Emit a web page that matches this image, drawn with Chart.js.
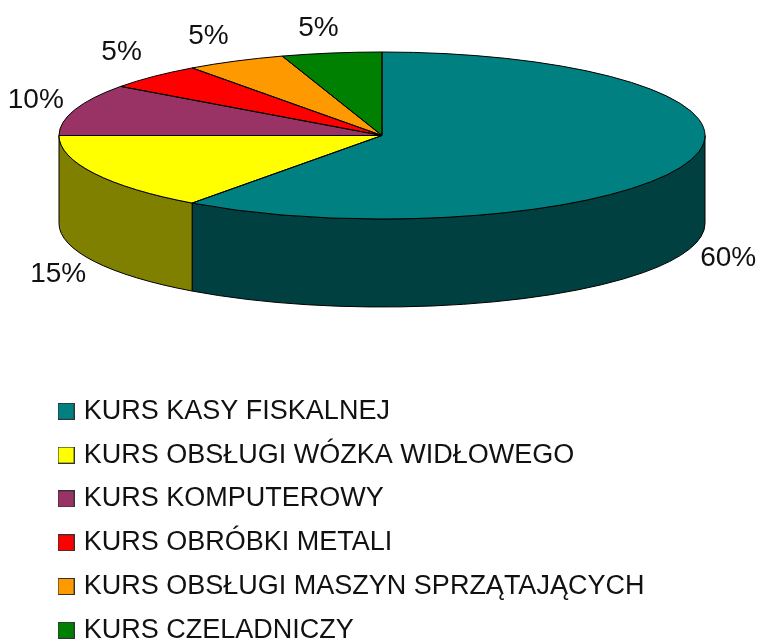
<!DOCTYPE html>
<html>
<head>
<meta charset="utf-8">
<script src="https://cdn.jsdelivr.net/npm/chart.js@4"></script>
<style>
html, body { margin: 0; padding: 0; background: #fff; }
#wrap { width: 760px; height: 642px; }
</style>
</head>
<body>
<div id="wrap"><canvas id="pieChart" width="760" height="642"></canvas></div>
<script>
const categories = [
    "KURS KASY FISKALNEJ",
    "KURS OBSŁUGI WÓZKA WIDŁOWEGO",
    "KURS KOMPUTEROWY",
    "KURS OBRÓBKI METALI",
    "KURS OBSŁUGI MASZYN SPRZĄTAJĄCYCH",
    "KURS CZELADNICZY"
];
const shares = [60, 15, 10, 5, 5, 5];
const topColors = ["#008080", "#FFFF00", "#993366", "#FF0000", "#FF9900", "#008000"];
const sideColors = ["#004040", "#808000", "#4C1933", "#800000", "#804C00", "#004000"];

// where the flattened pie sits on the page
const pieX = 382, pieY = 135.5, radiusX = 323, radiusY = 83.5, depth = 88;
// nudge of each % label away from its rim point
const labelShift = [[39, 8.5], [-36, 12.5], [-39, -9], [-32, -24], [-27, -25], [-13, -25]];
const labelFont = "28px 'Liberation Sans', Arial, sans-serif";

function makeSwatch(color) {
    const c = document.createElement("canvas");
    c.width = 17;
    c.height = 17;
    const g = c.getContext("2d");
    g.fillStyle = "#333";
    g.fillRect(0, 0, 17, 17);
    g.fillStyle = color;
    g.fillRect(1, 1, 15, 15);
    return c;
}

// flattens the arcs into an ellipse and adds the side wall
const pie3d = {
    id: "pie3d",
    afterLayout(chart) {
        // one column of legend rows, under the pie
        const legend = chart.legend;
        legend.left = 45;
        legend.right = 700;
        legend.top = 381;
    },
    beforeDatasetsDraw(chart) {
        const ctx = chart.ctx;
        const arcs = chart.getDatasetMeta(0).data;

        ctx.save();
        ctx.strokeStyle = "#000";
        ctx.lineWidth = 1;
        arcs.forEach((arc, i) => {
            const from = Math.max(arc.startAngle, 0);
            const to = Math.min(arc.endAngle, Math.PI);
            if (from >= to) return;
            ctx.beginPath();
            ctx.ellipse(pieX, pieY, radiusX, radiusY, 0, from, to);
            ctx.ellipse(pieX, pieY + depth, radiusX, radiusY, 0, to, from, true);
            ctx.closePath();
            ctx.fillStyle = sideColors[i];
            ctx.fill();
            ctx.stroke();
        });
        ctx.restore();

        const first = arcs[0];
        ctx.save();
        ctx.translate(pieX, pieY);
        ctx.scale(radiusX / first.outerRadius, radiusY / first.outerRadius);
        ctx.translate(-first.x, -first.y);
    },
    afterDatasetsDraw(chart) {
        const ctx = chart.ctx;
        ctx.restore();

        const arcs = chart.getDatasetMeta(0).data;
        ctx.save();
        ctx.strokeStyle = "#000";
        ctx.lineWidth = 1;
        arcs.forEach(arc => {
            ctx.beginPath();
            ctx.moveTo(pieX, pieY);
            ctx.ellipse(pieX, pieY, radiusX, radiusY, 0, arc.startAngle, arc.endAngle);
            ctx.closePath();
            ctx.stroke();
        });

        ctx.font = labelFont;
        ctx.fillStyle = "#111";
        ctx.textAlign = "center";
        ctx.textBaseline = "middle";
        arcs.forEach((arc, i) => {
            const mid = (arc.startAngle + arc.endAngle) / 2;
            let y = pieY + radiusY * Math.sin(mid);
            if (Math.sin(mid) > 0) y += depth;
            const x = pieX + radiusX * Math.cos(mid);
            ctx.fillText(shares[i] + "%", x + labelShift[i][0], y + labelShift[i][1]);
        });
        ctx.restore();
    }
};

new Chart(document.getElementById("pieChart"), {
    type: "pie",
    data: {
        labels: categories,
        datasets: [{
            data: shares,
            backgroundColor: topColors,
            borderWidth: 0,
            clip: false
        }]
    },
    options: {
        responsive: false,
        animation: false,
        plugins: {
            tooltip: { enabled: false },
            legend: {
                position: "bottom",
                align: "start",
                maxWidth: 600,
                labels: {
                    usePointStyle: true,
                    boxWidth: 8.5,
                    boxHeight: 17,
                    padding: 16.8,
                    color: "#111",
                    font: { family: "'Liberation Sans', Arial, sans-serif", size: 27 },
                    generateLabels: chart => categories.map((text, i) => ({
                        text: text,
                        pointStyle: makeSwatch(topColors[i]),
                        fillStyle: topColors[i],
                        fontColor: "#111",
                        lineWidth: 0,
                        index: i
                    }))
                }
            }
        }
    },
    plugins: [pie3d]
});
</script>
</body>
</html>
